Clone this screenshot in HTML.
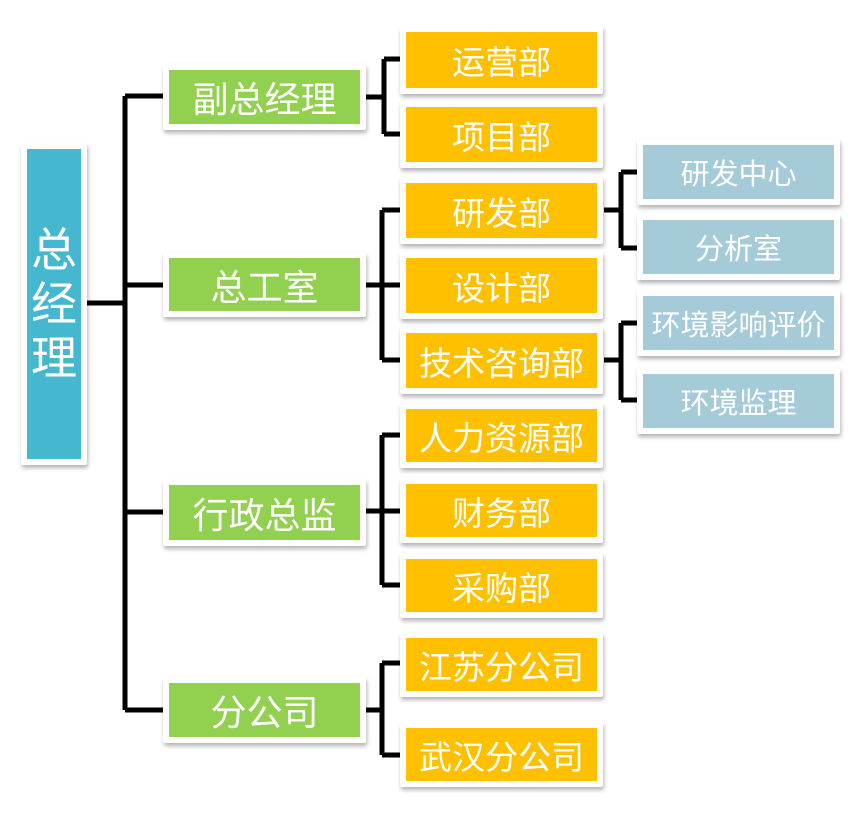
<!DOCTYPE html>
<html><head><meta charset="utf-8"><style>
body{margin:0;width:865px;height:823px;background:#fff;position:relative;overflow:hidden;font-family:"Liberation Sans","Noto Sans CJK SC",sans-serif}
.b{position:absolute;background:#fff;padding:6px;box-shadow:1px 3px 4px rgba(0,0,0,.3);border-radius:2px}
.b div{width:100%;height:100%;color:#fff;display:flex;align-items:center;justify-content:center;white-space:nowrap}
.g div{background:#92d050;font-size:36px}
.o div{background:#ffc000;font-size:33px}
.l div{background:#a5cbd9;font-size:29px}
.r div{background:#45b8d0;font-size:46px;line-height:54px;text-align:center;flex-direction:column}
svg{position:absolute;left:0;top:0}
</style></head><body>
<svg width="865" height="823"><g stroke="#000" stroke-width="5" fill="none" stroke-linejoin="round">
<path d="M87 303H125M125 96V710M125 96H163M125 285H163M125 512H163M125 710H163"/>
<path d="M366 97H384M384 59V134M384 59H400M384 134H400"/>
<path d="M366 285H382M382 210V360M382 210H400M382 285H400M382 360H400"/>
<path d="M366 511H382M382 435V585M382 435H400M382 511H400M382 585H400"/>
<path d="M366 710H382M382 663V755M382 663H400M382 755H400"/>
<path d="M604 210H621M621 172V248M621 172H637M621 248H637"/>
<path d="M604 360H621M621 323V400M621 323H637M621 400H637"/>
</g></svg>
<div class="b r" style="left:21px;top:143px;width:54px;height:310px"><div>总<br>经<br>理</div></div>
<div class="b g" style="left:163px;top:64px;width:191px;height:54px"><div>副总经理</div></div>
<div class="b g" style="left:163px;top:252px;width:191px;height:53px"><div>总工室</div></div>
<div class="b g" style="left:163px;top:479px;width:191px;height:55px"><div>行政总监</div></div>
<div class="b g" style="left:163px;top:677px;width:191px;height:54px"><div>分公司</div></div>
<div class="b o" style="left:400px;top:26px;width:191px;height:56px"><div>运营部</div></div>
<div class="b o" style="left:400px;top:101px;width:191px;height:55px"><div>项目部</div></div>
<div class="b o" style="left:400px;top:177px;width:191px;height:55px"><div>研发部</div></div>
<div class="b o" style="left:400px;top:252px;width:191px;height:55px"><div>设计部</div></div>
<div class="b o" style="left:400px;top:327px;width:191px;height:55px"><div>技术咨询部</div></div>
<div class="b o" style="left:400px;top:403px;width:191px;height:53px"><div>人力资源部</div></div>
<div class="b o" style="left:400px;top:478px;width:191px;height:53px"><div>财务部</div></div>
<div class="b o" style="left:400px;top:553px;width:191px;height:53px"><div>采购部</div></div>
<div class="b o" style="left:400px;top:632px;width:191px;height:53px"><div>江苏分公司</div></div>
<div class="b o" style="left:400px;top:722px;width:191px;height:53px"><div>武汉分公司</div></div>
<div class="b l" style="left:637px;top:139px;width:191px;height:54px"><div>研发中心</div></div>
<div class="b l" style="left:637px;top:214px;width:191px;height:54px"><div>分析室</div></div>
<div class="b l" style="left:637px;top:290px;width:191px;height:54px"><div>环境影响评价</div></div>
<div class="b l" style="left:637px;top:368px;width:191px;height:54px"><div>环境监理</div></div>
</body></html>
